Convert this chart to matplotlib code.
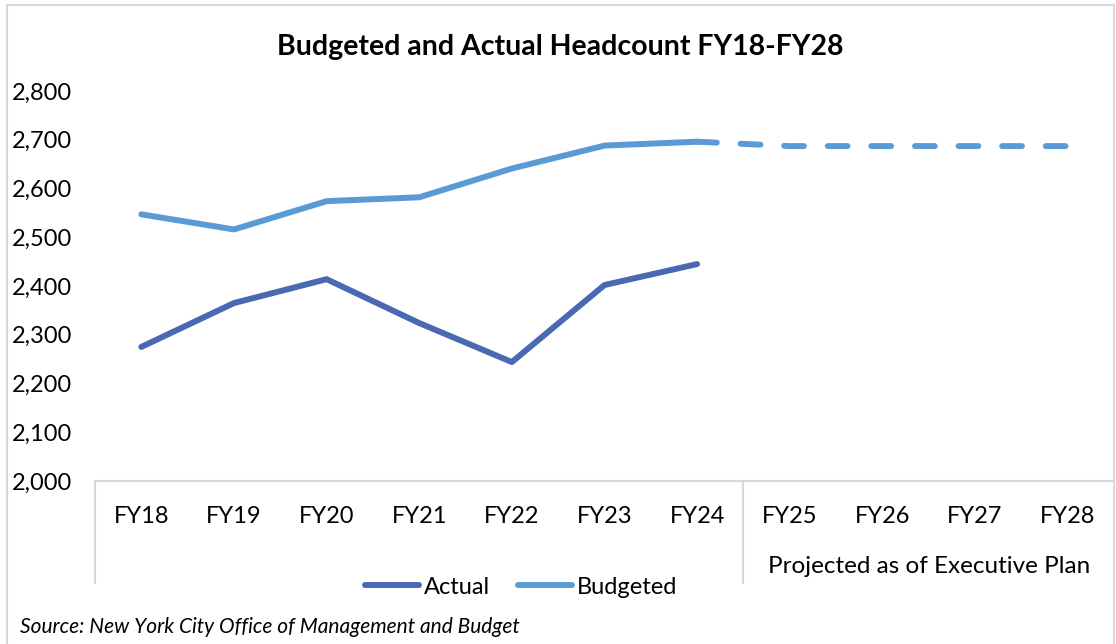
import matplotlib.pyplot as plt
import matplotlib.transforms as mtransforms
from matplotlib.lines import Line2D
from matplotlib.ticker import FuncFormatter

plt.rcParams['font.family'] = ['Lato', 'DejaVu Sans']

# Data
years = ["FY18", "FY19", "FY20", "FY21", "FY22", "FY23", "FY24",
         "FY25", "FY26", "FY27", "FY28"]
actual = [2275, 2365, 2414, 2324, 2244, 2402, 2445]
budgeted = [2547, 2516, 2574, 2582, 2641, 2688, 2696]
projected = [2687, 2687, 2687, 2687]
group_label = "Projected as of Executive Plan"

c_actual = "#4A69B3"
c_budget = "#5B9BD5"
c_grid = "#D9D9D9"

fig = plt.figure(figsize=(11.16, 6.44), dpi=100)
ax = fig.add_axes([95 / 1116, 1 - 481 / 644, (1114 - 95) / 1116, 390 / 644])

x = list(range(len(years)))
n_hist = len(actual)

ax.plot(x[:n_hist], actual, color=c_actual, lw=4.3, solid_capstyle="round",
        solid_joinstyle="round")
ax.plot(x[:n_hist], budgeted, color=c_budget, lw=4.3, solid_capstyle="round",
        solid_joinstyle="round")
# projected part, dashed, joined to last budgeted value
ax.plot(x[n_hist - 1:], [budgeted[-1]] + projected, color=c_budget, lw=4.3,
        dashes=(3.3, 4.0), dash_capstyle="round")

ax.set_xlim(-0.5, len(years) - 0.5)
ax.set_ylim(2000, 2800)
ax.set_yticks(range(2000, 2801, 100))
ax.yaxis.set_major_formatter(FuncFormatter(lambda v, p: f"{int(v):,}"))
ax.set_xticks(x)
ax.set_xticklabels(years)
ax.tick_params(axis="both", length=0, labelsize=17, colors="black")
ax.tick_params(axis="y", pad=16.5)
ax.tick_params(axis="x", pad=18)

for s in ["left", "right", "top"]:
    ax.spines[s].set_visible(False)
ax.spines["bottom"].set_color(c_grid)
ax.spines["bottom"].set_linewidth(1.5)

# category group dividers below the axis
trans = mtransforms.blended_transform_factory(ax.transData, ax.transAxes)
for xv in [-0.5, n_hist - 0.5]:
    ax.plot([xv, xv], [0, -0.262], color=c_grid, lw=1.5, transform=trans,
            clip_on=False)
ax.text((n_hist - 0.5 + len(years) - 0.5) / 2, -0.218, group_label,
        transform=trans, ha="center", va="center", fontsize=17.5)

fig.text(0.502, 1 - 47 / 644, "Budgeted and Actual Headcount FY18-FY28",
         ha="center", va="center", fontsize=20.5, fontweight="bold")

handles = [Line2D([], [], color=c_actual, lw=4.3, solid_capstyle="round"),
           Line2D([], [], color=c_budget, lw=4.3, solid_capstyle="round")]
fig.legend(handles, ["Actual", "Budgeted"], loc="center",
           bbox_to_anchor=(521 / 1116, 1 - 587 / 644), ncol=2, frameon=False,
           fontsize=17, handlelength=2.3, handletextpad=0.2, columnspacing=1.2)

fig.text(20 / 1116, 1 - 627 / 644,
         "Source: New York City Office of Management and Budget",
         ha="left", va="center", fontsize=15, style="italic")

# outer chart border
fig.add_artist(plt.Rectangle((7 / 1116, -0.05), (1114 - 7) / 1116,
                             1.05 - 5 / 644, transform=fig.transFigure,
                             fill=False, edgecolor=c_grid, lw=1.5))

fig.savefig("out.png", dpi=100)
